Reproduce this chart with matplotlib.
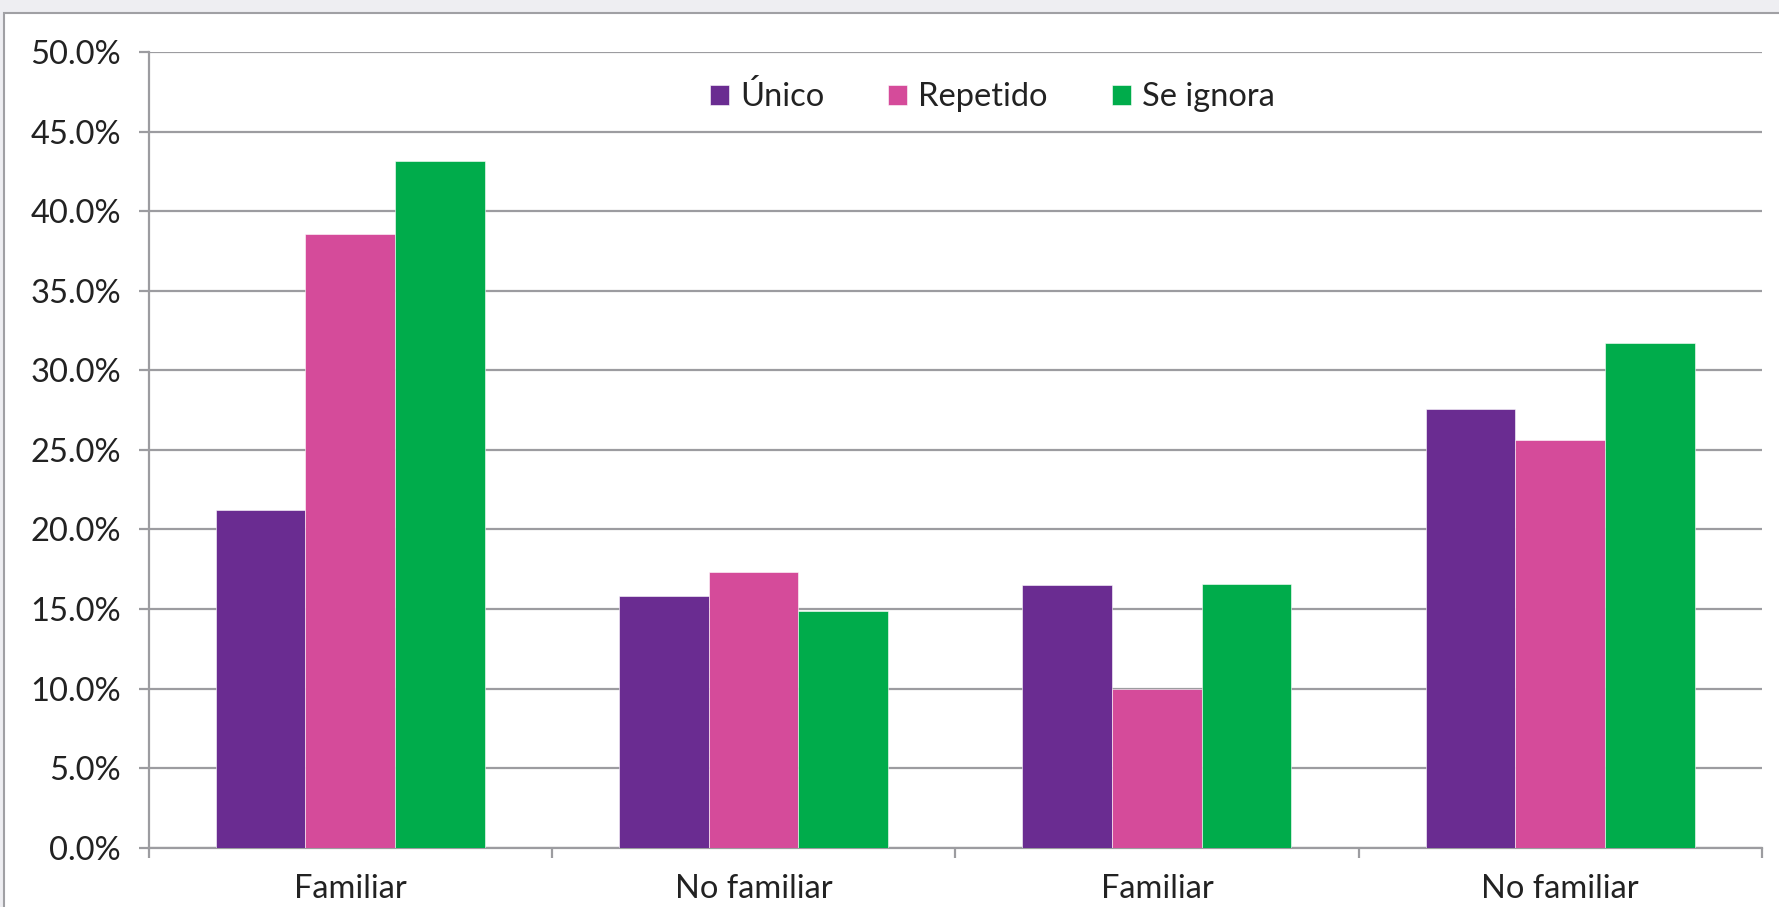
import matplotlib.pyplot as plt
import numpy as np
from matplotlib.patches import Rectangle

# categories and series (values in %)
categories = ['Familiar', 'No familiar', 'Familiar', 'No familiar']
series = ['Único', 'Repetido', 'Se ignora']
unico = [21.2, 15.8, 16.5, 27.6]
repetido = [38.6, 17.3, 10.0, 25.6]
se_ignora = [43.15, 14.9, 16.6, 31.7]
colors = ['#6A2C91', '#D54B9A', '#00AC4B']

plt.rcParams['font.family'] = ['Lato', 'DejaVu Sans']
grid_c = '#9C9CA0'
text_c = '#222222'
fs = 23.5

fig = plt.figure(figsize=(17.79, 9.07), dpi=100)
fig.patch.set_facecolor('#EEEEF2')
# white chart area with gray border (behind the axes)
fig.patches.append(Rectangle((0.002, -0.1), 1.1, 1.086, transform=fig.transFigure,
                             facecolor='white', edgecolor='#A0A0A4', lw=1.5, zorder=-10))

ax = fig.add_axes([0.0835, 0.0655, 0.9069, 0.877])
ax.set_facecolor('none')

x = np.arange(len(categories))
w = 1 / 4.5
for i, (vals, name) in enumerate(zip([unico, repetido, se_ignora], series)):
    ax.bar(x + (i - 1) * w, vals, width=w, color=colors[i], label=name,
           edgecolor='white', linewidth=0.4, zorder=3)

ax.set_xlim(-0.5, len(categories) - 0.5)
ax.set_ylim(0, 50)
ax.set_yticks(np.arange(0, 50.1, 5))
ax.set_yticklabels([f'{v:.1f}%' for v in np.arange(0, 50.1, 5)])
ax.yaxis.grid(True, color=grid_c, lw=1.6, zorder=0)

ax.set_xticks(x)
ax.set_xticklabels(categories)
ax.set_xticks(np.arange(-0.5, len(categories)), minor=True)
ax.tick_params(axis='x', which='major', length=0, pad=19, labelsize=fs, labelcolor=text_c)
ax.tick_params(axis='x', which='minor', length=7, width=1.6, color=grid_c)
ax.tick_params(axis='y', length=7, width=1.6, color=grid_c, pad=13, labelsize=fs, labelcolor=text_c)

for s in ['top', 'right']:
    ax.spines[s].set_visible(False)
for s in ['left', 'bottom']:
    ax.spines[s].set_color(grid_c)
    ax.spines[s].set_linewidth(1.6)

ax.legend(loc='center', bbox_to_anchor=(0.523, 0.944), ncol=3, frameon=False,
          fontsize=fs, handlelength=0.58, handleheight=0.58, handletextpad=0.35,
          columnspacing=1.95, labelcolor=text_c)

fig.savefig('out.png', dpi=100)
